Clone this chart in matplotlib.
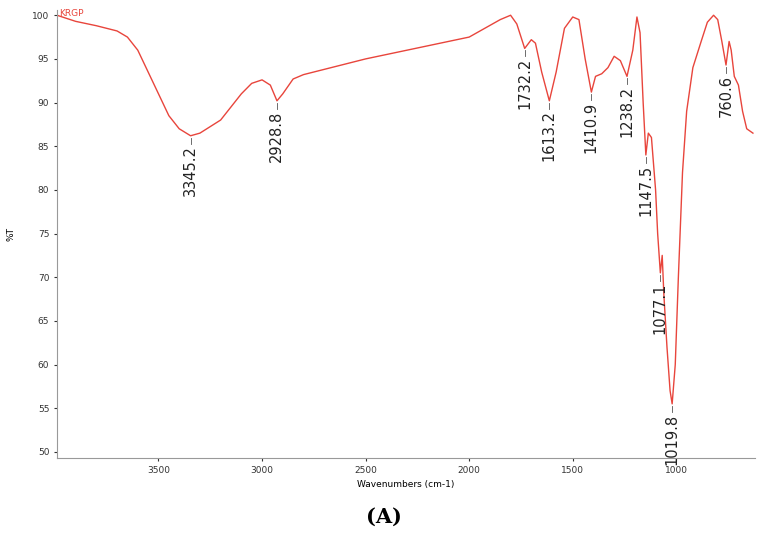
import matplotlib
matplotlib.use("Agg")
import matplotlib.pyplot as plt

wn = [3990,3900,3800,3700,3650,3600,3550,3500,3450,3400,3345,3300,3200,3100,3050,3000,2960,2928,2900,2850,2800,2500,2200,2000,1850,1800,1770,1732,1700,1680,1650,1613,1580,1540,1500,1470,1440,1410,1390,1360,1330,1300,1270,1238,1210,1190,1175,1160,1147,1135,1120,1100,1090,1077,1068,1060,1045,1030,1020,1005,990,970,950,920,880,850,820,800,780,760,745,735,720,700,680,660,630]
pt = [100,99.3,98.8,98.2,97.5,96,93.5,91,88.5,87,86.2,86.5,88,91,92.2,92.6,92,90.2,91,92.7,93.2,95,96.5,97.5,99.5,100,99,96.2,97.2,96.8,93.5,90.2,93.5,98.5,99.8,99.5,95,91.2,93,93.3,94,95.3,94.8,93,96,99.8,98,90,84,86.5,86,80,75,70.5,72.5,68,62,57,55.5,60,70,82,89,94,97,99.2,100,99.5,97,94.3,97,96,93,92,89,87,86.5]
peak_wn = [3345.2,2928.8,1732.2,1613.2,1410.9,1238.2,1147.5,1077.1,1019.8,760.6]
peak_t = [86.2,90.2,96.2,90.2,91.2,93,84,70.5,55.5,94.3]
xticks = [3500,3000,2500,2000,1500,1000]
yticks = [50,55,60,65,70,75,80,85,90,95,100]

fig = plt.figure(figsize=(7.67,5.42), dpi=100)
ax = fig.add_axes([57/767, 1-458/542, 698/767, 448/542])
ax.plot(wn, pt, color="#e8453c", lw=1.0)
ax.set_xlim(3990, 620)
ax.set_ylim(49.3, 100.6)
ax.set_xticks(xticks)
ax.set_yticks(yticks)
ax.tick_params(labelsize=6.5, length=2, colors="#333333")
for s in ["top","right"]:
    ax.spines[s].set_visible(False)
ax.spines["left"].set_color("#999999")
ax.spines["bottom"].set_color("#999999")
ax.set_xlabel("Wavenumbers (cm-1)", fontsize=6.5)
ax.set_ylabel("%T", fontsize=6.5, labelpad=12)
ax.text(3980, 100.2, "KRGP", color="#e8453c", fontsize=6.5, va="center")
for w, t in zip(peak_wn, peak_t):
    ax.plot([w, w], [t - 0.2, t - 0.9], color="#555555", lw=0.6)
    ax.text(w, t - 1.1, f"{w:.1f}", rotation=90, ha="center", va="top", fontsize=10.5, color="#222222")
fig.text(0.5, 0.035, "(A)", ha="center", fontsize=15, fontweight="bold", family="DejaVu Serif")
fig.savefig("out.png", dpi=100)
